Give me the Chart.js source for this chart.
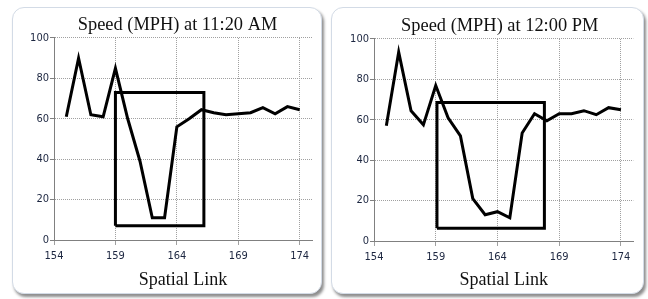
<!DOCTYPE html>
<html>
<head>
<meta charset="utf-8">
<script src="https://cdn.jsdelivr.net/npm/chart.js@4.4.1/dist/chart.umd.min.js"></script>
<style>
html, body { margin: 0; padding: 0; background: #fff; }
body { width: 648px; height: 299px; position: relative; overflow: hidden; }
.panel {
    position: absolute; top: 7px; height: 287px; box-sizing: border-box;
    border: 1px solid #d3dbe6; border-radius: 12px; background: #fff;
    box-shadow: 2px 3px 3px rgba(0, 0, 0, 0.45);
}
canvas { position: absolute; top: 7px; }
</style>
</head>
<body>
<div class="panel" style="left:12px; width:310px"></div>
<div class="panel" style="left:331px; width:313px"></div>
<canvas id="chartA" width="331" height="287" style="left:12px"></canvas>
<canvas id="chartB" width="338" height="287" style="left:331px"></canvas>
<script>
// spatial links along the corridor
const links = [155, 156, 157, 158, 159, 160, 161, 162, 163, 164, 165, 166, 167, 168, 169, 170, 171, 172, 173, 174];
const speeds1120 = [61, 90, 62, 61, 85, 60, 39, 11, 11, 56, 60, 64.5, 63, 62, 62.5, 63, 65.5, 62.5, 66, 64.5];
const speeds1200 = [57, 93.5, 64.5, 57.5, 77, 61, 52, 21, 13, 14.5, 11.5, 53.5, 63, 59.5, 63, 63, 64.5, 62.5, 66, 65];

// highlighted congestion boxes (corners, closed)
const box1120X = [159, 159, 166.2, 166.2, 159];
const box1120Y = [7, 73, 73, 7, 7];
const box1200X = [159.1, 159.1, 167.8, 167.8, 159.1];
const box1200Y = [6.3, 68.6, 68.6, 6.3, 6.3];

const xTicks = [154, 159, 164, 169, 174];
const yTicks = [0, 20, 40, 60, 80, 100];

const serif = '"Liberation Serif", "Times New Roman", serif';
const narrow = '"Liberation Sans Narrow", "Arial Narrow", "DejaVu Sans Condensed", sans-serif';

function toPoints(xs, ys) {
    return xs.map((x, i) => ({ x: x, y: ys[i] }));
}

function makeChart(id, title, speeds, boxX, boxY, fit) {
    return new Chart(document.getElementById(id), {
        type: 'line',
        data: {
            datasets: [
                {
                    data: toPoints(links, speeds),
                    borderColor: '#000',
                    borderWidth: 3,
                    pointRadius: 0,
                    tension: 0,
                    borderJoinStyle: 'miter'
                },
                {
                    data: toPoints(boxX, boxY),
                    borderColor: '#000',
                    borderWidth: 3,
                    pointRadius: 0,
                    tension: 0,
                    borderJoinStyle: 'miter'
                }
            ]
        },
        options: {
            responsive: false,
            animation: false,
            layout: { padding: { left: 0, right: fit.right, top: 0, bottom: 0 } },
            plugins: {
                legend: { display: false },
                tooltip: { enabled: false },
                title: {
                    display: true,
                    text: title,
                    color: '#111',
                    font: { family: serif, size: 18.4, weight: 'normal' },
                    padding: { top: fit.titleTop, bottom: fit.titleBottom }
                }
            },
            scales: {
                x: {
                    type: 'linear',
                    min: 154,
                    max: 175,
                    afterBuildTicks: s => { s.ticks = xTicks.map(v => ({ value: v })); },
                    afterFit: s => { s.height = fit.xHeight; },
                    ticks: {
                        color: '#1c2640',
                        padding: 5,
                        maxRotation: 0,
                        font: { family: narrow, size: 11 }
                    },
                    grid: { color: '#a0a0a0', tickLength: 5, tickColor: '#a0a0a0' },
                    border: { color: '#808080', width: 1, dash: [1, 1] },
                    title: {
                        display: true,
                        text: 'Spatial Link',
                        color: '#111',
                        font: { family: serif, size: 18, weight: 'normal' },
                        padding: { top: 0, bottom: 2.7 }
                    }
                },
                y: {
                    min: 0,
                    max: 100,
                    afterBuildTicks: s => { s.ticks = yTicks.map(v => ({ value: v })); },
                    afterFit: s => { s.width = fit.yWidth; },
                    ticks: {
                        color: '#1c2640',
                        padding: 1,
                        font: { family: narrow, size: 11 }
                    },
                    grid: { color: '#a0a0a0', tickLength: 4, tickColor: '#808080', tickBorderDash: [] },
                    border: { color: '#808080', width: 1, dash: [1, 1] }
                },
                // empty spacer on the right so the title sits where the original has it
                spacer: {
                    type: 'linear',
                    position: 'right',
                    display: true,
                    afterFit: s => { s.width = fit.spacer; },
                    ticks: { display: false },
                    grid: { display: false, drawTicks: false },
                    border: { display: false }
                }
            }
        }
    });
}

makeChart('chartA', 'Speed (MPH) at 11:20 AM', speeds1120, box1120X, box1120Y,
    { right: 0, spacer: 31, yWidth: 42, xHeight: 54, titleTop: 7, titleBottom: 1.9 });
makeChart('chartB', 'Speed (MPH) at 12:00 PM', speeds1200, box1200X, box1200Y,
    { right: 0.6, spacer: 35.1, yWidth: 43, xHeight: 53, titleTop: 8, titleBottom: 1.9 });
</script>
</body>
</html>
